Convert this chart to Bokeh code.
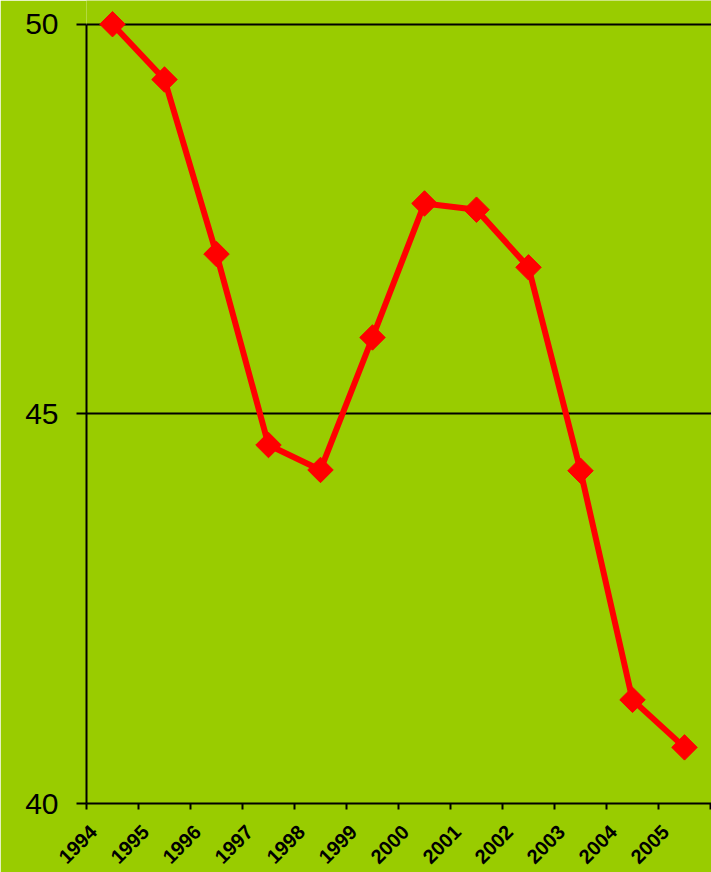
import numpy as np
from bokeh.plotting import figure
from bokeh.models import Range1d, FixedTicker, ColumnDataSource
from bokeh.embed import file_html
from bokeh.resources import INLINE

# ---- data ----
years = ["1994", "1995", "1996", "1997", "1998", "1999",
         "2000", "2001", "2002", "2003", "2004", "2005"]
values = [50.0, 49.29, 47.05, 44.60, 44.28, 45.98,
          47.70, 47.62, 46.88, 44.27, 41.33, 40.72]
y_ticks = [40, 45, 50]

BG = "#99CC00"
RED = "#FF0000"

xpos = [i + 0.5 for i in range(len(years))]
src = ColumnDataSource(dict(x=xpos, y=values, year=years))

CAT_PX = 52.0
W, H = 711, 872
LEFT, TOP, BOTTOM = 86, 0, 69
FRAME_W = W - LEFT
FRAME_H = H - TOP - BOTTOM
PX_PER_UNIT = 77.93
p = figure(width=W, height=H,
           x_range=Range1d(0, FRAME_W / CAT_PX),
           y_range=Range1d(40, 40 + FRAME_H / PX_PER_UNIT),
           output_backend="svg", toolbar_location=None,
           min_border_left=LEFT, min_border_right=0,
           min_border_top=TOP, min_border_bottom=BOTTOM)
p.background_fill_color = BG
p.border_fill_color = BG
p.outline_line_color = None

p.line("x", "y", source=src, line_color=RED, line_width=6)
p.scatter("x", "y", source=src, marker="square", size=18,
          angle=np.pi / 4, fill_color=RED, line_color=RED)

# y axis
ya = p.yaxis[0]
ya.ticker = FixedTicker(ticks=y_ticks)
ya.bounds = (40, 50)
ya.axis_line_color = "black"
ya.axis_line_width = 2
ya.major_tick_line_color = "black"
ya.major_tick_line_width = 2
ya.major_tick_out = 10
ya.major_tick_in = 0
ya.minor_tick_line_color = None
ya.major_label_text_font = "Liberation Sans"
ya.major_label_text_font_size = "30px"
ya.major_label_text_color = "black"
ya.major_label_standoff = 18

# x axis: labels sit left of the category centre (as in the original), ticks at boundaries
label_shift = 19 / CAT_PX
label_pos = [x - label_shift for x in xpos]
xa = p.xaxis[0]
xa.ticker = FixedTicker(ticks=label_pos, minor_ticks=list(range(len(years) + 1)))
xa.major_label_overrides = {x: y for x, y in zip(label_pos, years)}
xa.major_label_orientation = np.pi / 4
xa.axis_line_color = "black"
xa.axis_line_width = 2
xa.major_tick_line_color = None
xa.major_tick_out = 0
xa.major_tick_in = 0
xa.minor_tick_line_color = "black"
xa.minor_tick_line_width = 2
xa.minor_tick_out = 6
xa.minor_tick_in = 0
xa.major_label_text_font = "Liberation Sans"
xa.major_label_text_font_style = "bold"
xa.major_label_text_font_size = "20px"
xa.major_label_text_color = "black"
xa.major_label_standoff = 19

p.xgrid.grid_line_color = None
p.ygrid.ticker = FixedTicker(ticks=y_ticks)
p.ygrid.grid_line_color = "black"
p.ygrid.grid_line_width = 2

open("out.html", "w").write(file_html(p, INLINE))
